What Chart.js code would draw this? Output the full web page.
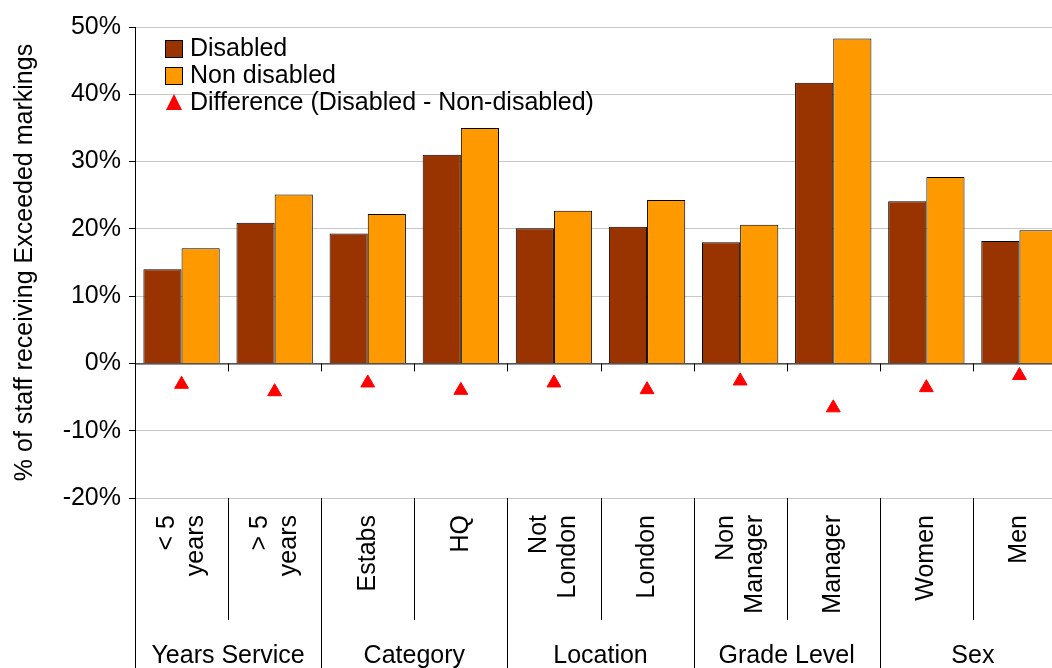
<!DOCTYPE html>
<html>
<head>
<meta charset="utf-8">
<script src="https://cdn.jsdelivr.net/npm/chart.js@4/dist/chart.umd.min.js"></script>
<style>
  html, body { margin: 0; padding: 0; background: #fff; overflow: hidden; }
  #wrap { width: 1075px; height: 668px; }
</style>
</head>
<body>
<div id="wrap"><canvas id="chart"></canvas></div>
<script>
// data
const categories = [['< 5', 'years'], ['> 5', 'years'], ['Estabs'], ['HQ'], ['Not', 'London'], ['London'],
                    ['Non', 'Manager'], ['Manager'], ['Women'], ['Men']];
const groups = ['Years Service', 'Category', 'Location', 'Grade Level', 'Sex'];
const disabled    = [14.0, 20.9, 19.3, 31.0, 20.1, 20.3, 18.0, 41.7, 24.1, 18.2];
const nonDisabled = [17.1, 25.1, 22.2, 35.0, 22.7, 24.3, 20.6, 48.3, 27.7, 19.8];
const difference  = [-3.1, -4.2, -2.9, -4.0, -2.9, -3.9, -2.6, -6.6, -3.6, -1.8];
const yTicks = [-20, -10, 0, 10, 20, 30, 40, 50];

const FONT = '"Liberation Sans", Arial, sans-serif';
const FS = 25;
const COL_DIS = '#993300', COL_NON = '#FF9900', COL_DIFF = '#FF0000';

// Legend, zero axis, category labels and separators
const extras = {
  id: 'extras',
  afterDatasetsDraw(chart) {
    const ctx = chart.ctx, x = chart.scales.x, y = chart.scales.y;
    const area = chart.chartArea;
    const step = (area.right - area.left) / categories.length;
    const bottom = area.bottom;
    ctx.save();

    // zero line with ticks
    const y0 = y.getPixelForValue(0);
    ctx.strokeStyle = '#000'; ctx.lineWidth = 1;
    ctx.beginPath();
    ctx.moveTo(area.left, y0 + 0.5); ctx.lineTo(area.right, y0 + 0.5);
    for (let i = 0; i <= categories.length; i++) {
      const px = Math.round(area.left + i * step) + 0.5;
      ctx.moveTo(px, y0); ctx.lineTo(px, y0 + 8);
    }
    ctx.stroke();

    // separators below the plot
    ctx.beginPath();
    for (let i = 0; i <= categories.length; i++) {
      const px = Math.round(area.left + i * step) + 0.5;
      ctx.moveTo(px, bottom);
      ctx.lineTo(px, i % 2 === 0 ? 668 : 620);
    }
    ctx.stroke();

    // category labels (rotated)
    ctx.fillStyle = '#000';
    ctx.font = FS + 'px ' + FONT;
    categories.forEach((lines, i) => {
      const cx = x.getPixelForValue(i);
      ctx.save();
      ctx.translate(cx, 515);
      ctx.rotate(-Math.PI / 2);
      ctx.textAlign = 'right';
      ctx.textBaseline = 'middle';
      lines.forEach((t, j) => ctx.fillText(t, 0, (j - (lines.length - 1) / 2) * 29));
      ctx.restore();
    });

    // group labels
    ctx.textAlign = 'center';
    ctx.textBaseline = 'middle';
    groups.forEach((g, k) => {
      ctx.fillText(g, area.left + (2 * k + 1) * step, 656);
    });

    // legend
    ctx.textAlign = 'left';
    const lx = 165;
    [[COL_DIS, 'Disabled', 49], [COL_NON, 'Non disabled', 76]].forEach(([c, t, ly]) => {
      ctx.fillStyle = c;
      ctx.fillRect(lx, ly - 9, 18, 18);
      ctx.strokeStyle = '#000';
      ctx.strokeRect(lx + 0.5, ly - 8.5, 17, 17);
      ctx.fillStyle = '#000';
      ctx.fillText(t, lx + 25, ly);
    });
    ctx.fillStyle = COL_DIFF;
    ctx.beginPath();
    ctx.moveTo(lx + 9, 94); ctx.lineTo(lx + 17, 110); ctx.lineTo(lx + 1, 110);
    ctx.closePath(); ctx.fill();
    ctx.fillStyle = '#000';
    ctx.fillText('Difference (Disabled - Non-disabled)', lx + 25, 103);
    ctx.restore();
  }
};

new Chart(document.getElementById('chart'), {
  data: {
    labels: categories.map(c => c.join(' ')),
    datasets: [
      { type: 'bar', label: 'Disabled', data: disabled, backgroundColor: COL_DIS,
        borderColor: '#000', borderWidth: 1, categoryPercentage: 0.82, barPercentage: 1, order: 2 },
      { type: 'bar', label: 'Non disabled', data: nonDisabled, backgroundColor: COL_NON,
        borderColor: '#000', borderWidth: 1, categoryPercentage: 0.82, barPercentage: 1, order: 2 },
      { type: 'line', label: 'Difference (Disabled - Non-disabled)', data: difference, showLine: false,
        pointStyle: 'triangle', pointRadius: 8, pointBackgroundColor: COL_DIFF, pointBorderColor: COL_DIFF, order: 1 }
    ]
  },
  options: {
    responsive: true,
    maintainAspectRatio: false,
    animation: false,
    layout: { padding: { top: 27, right: 0, bottom: 162, left: 10 } },
    plugins: { legend: { display: false }, tooltip: { enabled: false } },
    scales: {
      x: {
        ticks: { display: false },
        grid: { display: false },
        border: { display: false }
      },
      y: {
        min: -20, max: 50,
        afterBuildTicks(axis) { axis.ticks = yTicks.map(v => ({ value: v })); },
        afterFit(axis) { axis.width = 125; },
        ticks: { color: '#000', font: { family: FONT, size: FS }, padding: 8,
                 callback: v => v + '%' },
        grid: { color: '#c8c8c8', drawTicks: true, tickLength: 6, tickColor: '#000' },
        border: { display: true, color: '#000' },
        title: { display: true, text: '% of staff receiving Exceeded markings', color: '#000',
                 font: { family: FONT, size: FS }, padding: 0 }
      }
    }
  },
  plugins: [extras]
});
</script>
</body>
</html>
